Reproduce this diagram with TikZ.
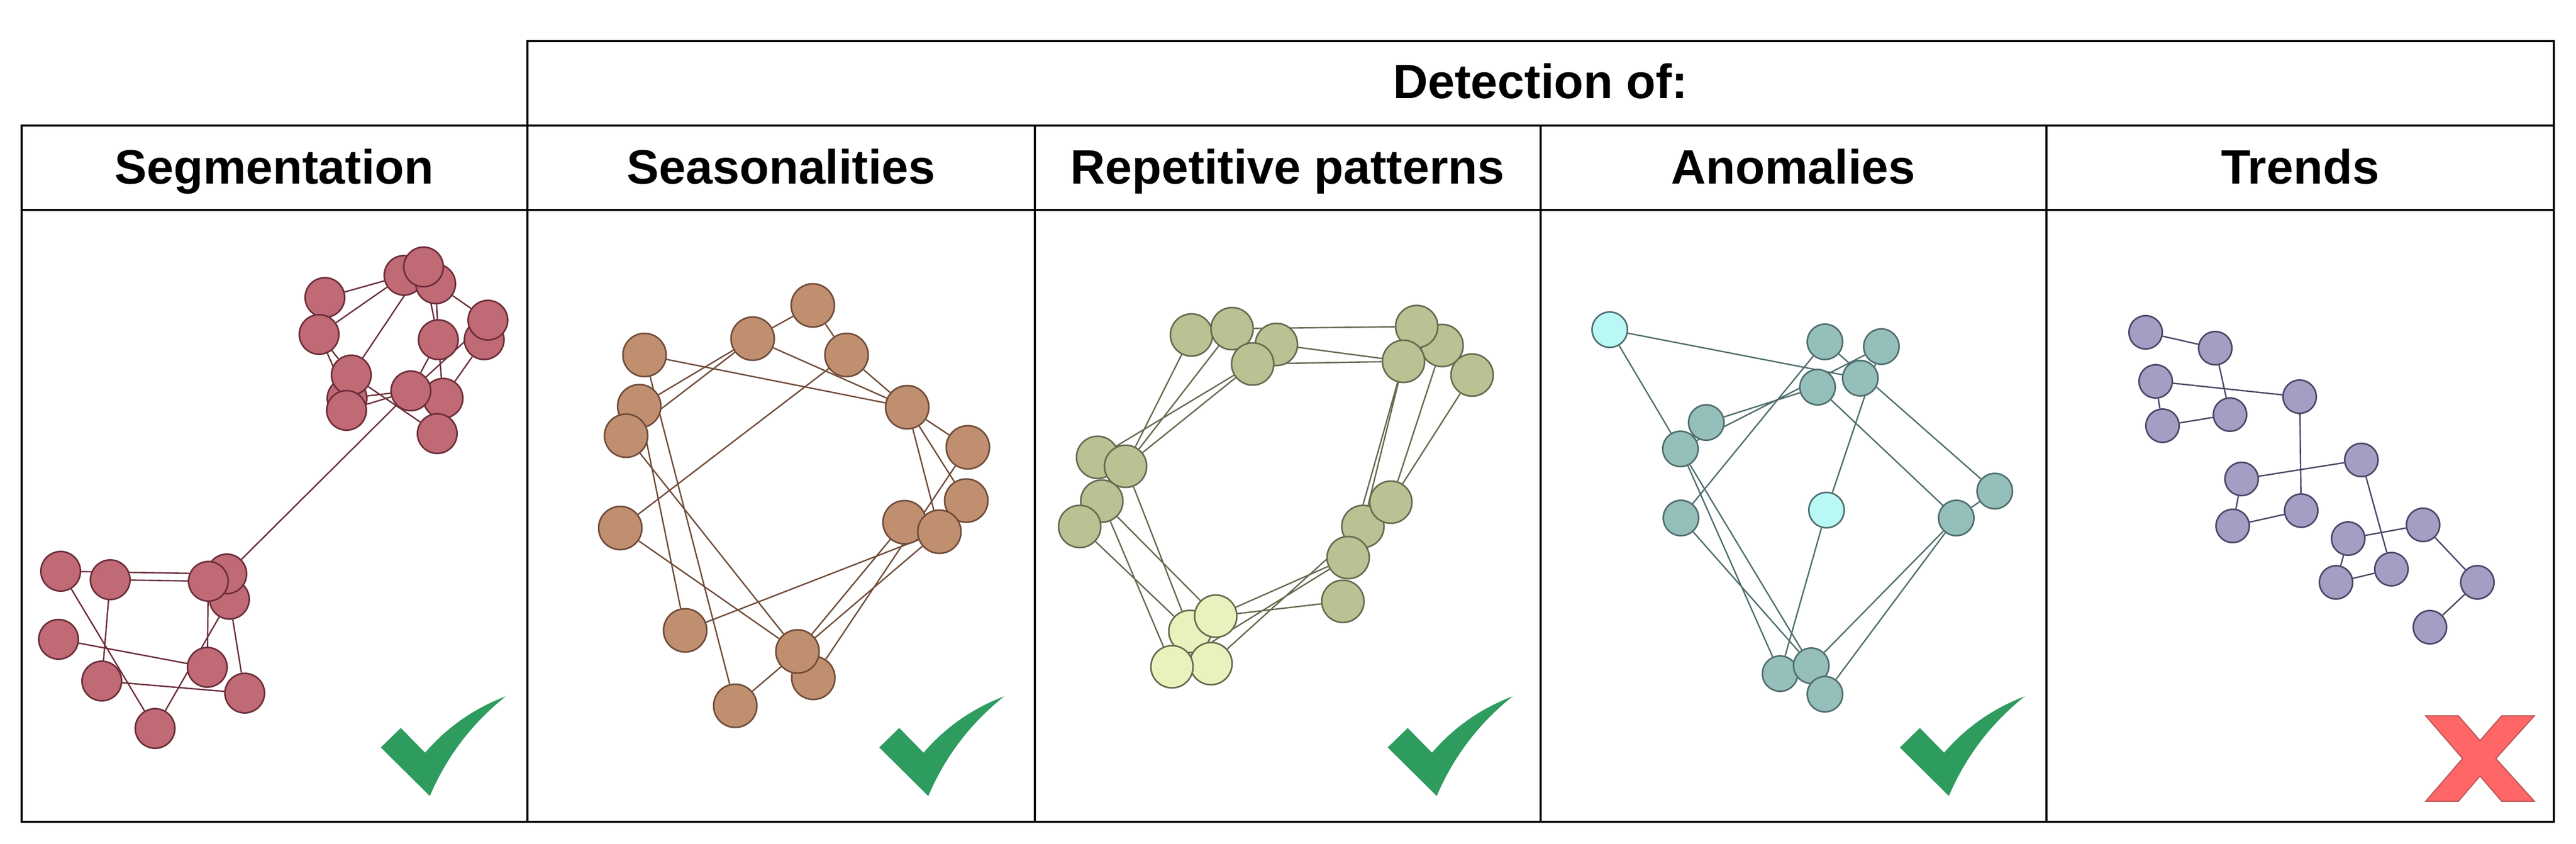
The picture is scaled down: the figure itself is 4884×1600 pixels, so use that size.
\documentclass[tikz,border=0pt]{standalone}
\usepackage{fontspec}
\setmainfont{Liberation Sans}
\usetikzlibrary{backgrounds}
% colours of the five graphs
\definecolor{segfill}{RGB}{192,106,117}
\definecolor{segline}{RGB}{108,46,58}
\definecolor{seafill}{RGB}{192,143,112}
\definecolor{sealine}{RGB}{112,76,58}
\definecolor{repfill}{RGB}{186,194,147}
\definecolor{replite}{RGB}{233,242,188}
\definecolor{repline}{RGB}{102,106,80}
\definecolor{anofill}{RGB}{149,191,187}
\definecolor{anolite}{RGB}{186,248,246}
\definecolor{anoline}{RGB}{80,110,110}
\definecolor{trdfill}{RGB}{165,158,196}
\definecolor{trdline}{RGB}{74,72,104}
\definecolor{okgreen}{RGB}{46,155,95}
\definecolor{nofill}{RGB}{255,102,102}
\definecolor{noline}{RGB}{190,85,85}
\tikzset{
  grid/.style={line width=1pt},
  head/.style={font=\bfseries\fontsize{26}{30}\selectfont,anchor=base,inner sep=0pt},
  vtx/.style={circle,inner sep=0pt,line width=0.85pt},
  seg/.style={vtx,minimum size=0.75cm,fill=segfill,draw=segline},
  sea/.style={vtx,minimum size=0.82cm,fill=seafill,draw=sealine},
  rep/.style={vtx,minimum size=0.80cm,fill=repfill,draw=repline},
  replt/.style={rep,fill=replite},
  ano/.style={vtx,minimum size=0.67cm,fill=anofill,draw=anoline},
  anolt/.style={ano,fill=anolite},
  trd/.style={vtx,minimum size=0.63cm,fill=trdfill,draw=trdline},
  link/.style={line width=0.75pt},
}
\newcommand{\okmark}[1]{\fill[okgreen,shift={(#1)}] (0,0) -- (38,-37) -- (84,10) .. controls (126,-39) and (177,-74) .. (237,-97) .. controls (173,-46) and (125,17) .. (93,92) -- cycle;}
\begin{document}
\begin{tikzpicture}[x=0.01cm,y=-0.01cm]
\useasboundingbox (0,0) rectangle (4884,1600);
% table
\draw[grid] (1000,1558) -- (1000,78) -- (4842,78) -- (4842,1558) -- (41,1558) -- (41,238) -- (4842,238) (41,398) -- (4842,398) (1962,238) -- (1962,1558) (2921,238) -- (2921,1558) (3880,238) -- (3880,1558);
\node[head] (dethead) at (2921,187) {Detection of:};
\node[head] (seghead) at (520,348) {Segmentation};
\node[head] (seahead) at (1481,348) {Seasonalities};
\node[head] (rephead) at (2441,348) {Repetitive patterns};
\node[head] (anohead) at (3400,348) {Anomalies};
\node[head] (trdhead) at (4361,348) {Trends};
% segmentation
\node[seg] (seg1) at (616,564) {}; \node[seg] (seg2) at (605,634) {};
\node[seg] (seg3) at (766,522) {}; \node[seg] (seg4) at (826,538) {}; \node[seg] (seg5) at (803,506) {};
\node[seg] (seg6) at (831,644) {}; \node[seg] (seg7) at (918,644) {}; \node[seg] (seg8) at (925,607) {};
\node[seg] (seg10) at (658,755) {}; \node[seg] (seg9) at (666,711) {}; \node[seg] (seg11) at (657,778) {};
\node[seg] (seg13) at (840,755) {}; \node[seg] (seg12) at (779,741) {}; \node[seg] (seg14) at (829,822) {};
\node[seg] (seg15) at (115,1083) {}; \node[seg] (seg16) at (209,1099) {};
\node[seg] (seg19) at (435,1136) {}; \node[seg] (seg17) at (430,1088) {}; \node[seg] (seg18) at (395,1102) {};
\node[seg] (seg20) at (111,1212) {}; \node[seg] (seg21) at (193,1291) {}; \node[seg] (seg22) at (393,1265) {};
\node[seg] (seg23) at (464,1314) {}; \node[seg] (seg24) at (294,1381) {};
% seasonalities
\node[sea] (sea1) at (1541,579) {}; \node[sea] (sea2) at (1427,642) {}; \node[sea] (sea3) at (1605,673) {};
\node[sea] (sea4) at (1222,673) {}; \node[sea] (sea5) at (1212,770) {}; \node[sea] (sea6) at (1187,826) {};
\node[sea] (sea7) at (1720,772) {}; \node[sea] (sea8) at (1835,848) {}; \node[sea] (sea10) at (1715,990) {};
\node[sea] (sea9) at (1832,949) {}; \node[sea] (sea11) at (1781,1008) {}; \node[sea] (sea12) at (1176,1001) {};
\node[sea] (sea13) at (1299,1195) {}; \node[sea] (sea15) at (1542,1285) {}; \node[sea] (sea14) at (1512,1235) {};
\node[sea] (sea16) at (1394,1338) {};
% repetitive patterns
\node[rep] (rep1) at (2259,635) {}; \node[rep] (rep2) at (2336,623) {}; \node[rep] (rep3) at (2420,653) {};
\node[rep] (rep4) at (2375,690) {}; \node[rep] (rep6) at (2734,655) {}; \node[rep] (rep5) at (2686,619) {};
\node[rep] (rep7) at (2661,685) {}; \node[rep] (rep8) at (2791,711) {};
\node[rep] (rep9) at (2081,867) {}; \node[rep] (rep11) at (2089,950) {}; \node[rep] (rep10) at (2134,884) {};
\node[rep] (rep12) at (2047,998) {};
\node[rep] (rep14) at (2584,998) {}; \node[rep] (rep13) at (2637,952) {}; \node[rep] (rep15) at (2556,1057) {};
\node[rep] (rep16) at (2546,1140) {};
\node[replt] (rep17) at (2256,1197) {}; \node[replt] (rep18) at (2305,1168) {};
\node[replt] (rep20) at (2296,1258) {}; \node[replt] (rep19) at (2222,1264) {};
% anomalies
\node[anolt] (ano1) at (3052,625) {}; \node[ano] (ano2) at (3460,648) {}; \node[ano] (ano3) at (3567,657) {};
\node[ano] (ano4) at (3527,717) {}; \node[ano] (ano5) at (3446,734) {}; \node[ano] (ano6) at (3235,801) {};
\node[ano] (ano7) at (3186,851) {}; \node[ano] (ano8) at (3187,982) {}; \node[anolt] (ano9) at (3463,967) {};
\node[ano] (ano10) at (3709,982) {}; \node[ano] (ano11) at (3782,931) {};
\node[ano] (ano12) at (3375,1277) {}; \node[ano] (ano13) at (3434,1262) {}; \node[ano] (ano14) at (3460,1316) {};
% trends
\node[trd] (trd1) at (4068,630) {}; \node[trd] (trd2) at (4200,660) {}; \node[trd] (trd3) at (4087,723) {};
\node[trd] (trd4) at (4360,752) {}; \node[trd] (trd5) at (4100,807) {}; \node[trd] (trd6) at (4228,786) {};
\node[trd] (trd7) at (4477,872) {}; \node[trd] (trd8) at (4250,908) {}; \node[trd] (trd9) at (4363,968) {};
\node[trd] (trd10) at (4233,997) {}; \node[trd] (trd11) at (4594,995) {}; \node[trd] (trd12) at (4452,1021) {};
\node[trd] (trd13) at (4534,1079) {}; \node[trd] (trd14) at (4429,1104) {}; \node[trd] (trd15) at (4697,1104) {};
\node[trd] (trd16) at (4607,1189) {};
% edges under the nodes
\begin{scope}[on background layer]
\draw[link,segline] (seg1) -- (seg3) (seg2) -- (seg3) (seg4) -- (seg8) (seg4) -- (seg6) (seg5) -- (seg6) (seg5) -- (seg9) (seg2) -- (seg9) (seg2) -- (seg10) (seg9) -- (seg14) (seg10) -- (seg12) (seg11) -- (seg12) (seg6) -- (seg13) (seg7) -- (seg13) (seg8) -- (seg12) (seg6) -- (seg12) (seg12) -- (seg17) (seg15) -- (seg17) (seg16) -- (seg18) (seg15) -- (seg24) (seg16) -- (seg21) (seg20) -- (seg22) (seg21) -- (seg23) (seg18) -- (seg22) (seg19) -- (seg24) (seg19) -- (seg23);
\draw[link,sealine] (sea2) -- (sea1) (sea1) -- (sea3) (sea3) -- (sea7) (sea4) -- (sea7) (sea2) -- (sea7) (sea5) -- (sea2) (sea6) -- (sea2) (sea5) -- (sea13) (sea4) -- (sea16) (sea6) -- (sea14) (sea12) -- (sea3) (sea12) -- (sea14) (sea13) -- (sea11) (sea7) -- (sea11) (sea7) -- (sea9) (sea7) -- (sea8) (sea15) -- (sea8) (sea14) -- (sea10) (sea16) -- (sea11);
\draw[link,repline] (rep1) -- (rep10) (rep2) -- (rep10) (rep4) -- (rep9) (rep4) -- (rep10) (rep2) -- (rep5) (rep3) -- (rep7) (rep4) -- (rep7) (rep7) -- (rep14) (rep7) -- (rep15) (rep6) -- (rep13) (rep8) -- (rep13) (rep11) -- (rep18) (rep11) -- (rep19) (rep12) -- (rep17) (rep10) -- (rep17) (rep18) -- (rep15) (rep18) -- (rep16) (rep19) -- (rep15) (rep20) -- (rep14);
\draw[link,anoline] (ano1) -- (ano4) (ano1) -- (ano7) (ano7) -- (ano12) (ano7) -- (ano13) (ano8) -- (ano13) (ano8) -- (ano2) (ano2) -- (ano11) (ano6) -- (ano5) (ano7) -- (ano3) (ano5) -- (ano10) (ano3) -- (ano9) (ano9) -- (ano12) (ano13) -- (ano10) (ano14) -- (ano10) (ano10) -- (ano11);
\draw[link,trdline] (trd1) -- (trd2) (trd2) -- (trd6) (trd3) -- (trd4) (trd3) -- (trd5) (trd5) -- (trd6) (trd4) -- (trd9) (trd8) -- (trd7) (trd8) -- (trd10) (trd10) -- (trd9) (trd7) -- (trd13) (trd12) -- (trd11) (trd12) -- (trd14) (trd14) -- (trd13) (trd11) -- (trd15) (trd15) -- (trd16);
\end{scope}
% marks
\okmark{722,1417}
\okmark{1667,1417}
\okmark{2631,1417}
\okmark{3602,1417}
\draw[fill=nofill,draw=noline,line width=0.6pt] (4599,1357) -- (4661,1357) -- (4702,1404) -- (4743,1357) -- (4805,1357) -- (4732,1438) -- (4805,1519) -- (4743,1519) -- (4702,1471) -- (4661,1519) -- (4599,1519) -- (4669,1438) -- cycle;
\end{tikzpicture}
\end{document}
